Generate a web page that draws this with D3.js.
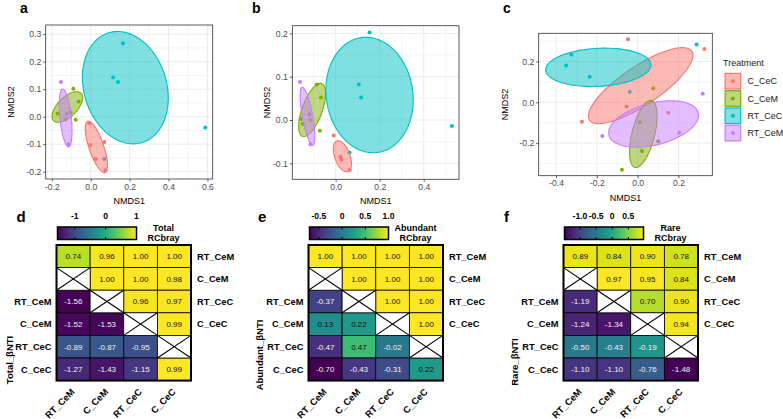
<!DOCTYPE html>
<html><head><meta charset="utf-8">
<script src="https://cdn.jsdelivr.net/npm/d3@7"></script>
<style>body{margin:0;background:#fff} svg{display:block;font-family:"Liberation Sans",Arial,Helvetica,sans-serif}</style>
</head><body><svg id="chart" width="783" height="419"></svg>
<script>
// ---------------- DATA ----------------
const treatments = ["C_CeC", "C_CeM", "RT_CeC", "RT_CeM"];
const treatmentColors = ["#F8766D", "#7CAE00", "#00BFC4", "#C77CFF"];

// NMDS panel a (Total): [group, NMDS1, NMDS2]
const nmdsTotalPoints = [
  ["C_CeC", -0.007, -0.024], ["C_CeC", -0.002, -0.103], ["C_CeC", 0.070, -0.092], ["C_CeC", 0.026, -0.154], ["C_CeC", 0.075, -0.195],
  ["C_CeM", -0.089, 0.102], ["C_CeM", -0.062, 0.055], ["C_CeM", -0.170, 0.012], ["C_CeM", -0.077, -0.011], ["C_CeM", -0.103, 0.015],
  ["RT_CeC", 0.166, 0.267], ["RT_CeC", 0.115, 0.143], ["RT_CeC", 0.140, 0.126], ["RT_CeC", 0.589, -0.039], ["RT_CeC", 0.070, -0.154],
  ["RT_CeM", -0.153, 0.126], ["RT_CeM", -0.130, -0.010], ["RT_CeM", -0.115, -0.100], ["RT_CeM", -0.124, 0.012]
];
// ellipses: [group, centre x, centre y, axis1 x, axis1 y, axis2 x, axis2 y] (data units)
const nmdsTotalEllipses = [
  ["C_CeC", 0.029, -0.110, -0.0446, 0.0930, 0.0357, 0.00855],
  ["C_CeM", -0.120, 0.0353, 0.0703, 0.0497, 0.0351, -0.0248],
  ["RT_CeC", 0.178, 0.1056, -0.0862, 0.1994, 0.2033, 0.0440],
  ["RT_CeM", -0.129, -0.0047, -0.0154, 0.1048, 0.0291, 0.0022]
];
const nmdsTotalXTicks = [-0.2, 0.0, 0.2, 0.4, 0.6];
const nmdsTotalYTicks = [-0.2, -0.1, 0.0, 0.1, 0.2, 0.3];

// NMDS panel b (Abundant)
const nmdsAbundantPoints = [
  ["C_CeC", -0.009, -0.036], ["C_CeC", 0.021, -0.085], ["C_CeC", 0.026, -0.092], ["C_CeC", 0.064, -0.115],
  ["C_CeM", -0.086, 0.082], ["C_CeM", -0.067, 0.052], ["C_CeM", -0.159, 0.002], ["C_CeM", -0.150, -0.009], ["C_CeM", -0.072, -0.025],
  ["RT_CeC", 0.154, 0.202], ["RT_CeC", 0.105, 0.082], ["RT_CeC", 0.116, 0.052], ["RT_CeC", 0.528, -0.014], ["RT_CeC", 0.063, -0.075],
  ["RT_CeM", -0.162, 0.088], ["RT_CeM", -0.119, 0.013], ["RT_CeM", -0.115, 0.000], ["RT_CeM", -0.115, -0.056]
];
const nmdsAbundantEllipses = [
  ["C_CeC", 0.0305, -0.0839, -0.0252, 0.0355, 0.0327, 0.00589],
  ["C_CeM", -0.107, 0.0231, 0.0432, 0.0609, 0.0431, -0.00778],
  ["RT_CeC", 0.154, 0.0577, -0.0370, 0.1326, 0.1950, 0.01386],
  ["RT_CeM", -0.128, 0.0085, -0.0244, 0.0670, 0.0231, 0.00216]
];
const nmdsAbundantXTicks = [0.0, 0.2, 0.4];
const nmdsAbundantYTicks = [-0.1, 0.0, 0.1, 0.2];

// NMDS panel c (Rare)
const nmdsRarePoints = [
  ["C_CeC", -0.047, 0.309], ["C_CeC", 0.327, 0.261], ["C_CeC", -0.273, -0.095], ["C_CeC", -0.054, -0.021], ["C_CeC", 0.150, -0.051],
  ["C_CeM", 0.077, 0.069], ["C_CeM", 0.021, -0.239], ["C_CeM", -0.077, -0.330], ["C_CeM", 0.101, -0.191], ["C_CeM", 0.010, -0.098],
  ["RT_CeC", 0.289, 0.284], ["RT_CeC", -0.325, 0.235], ["RT_CeC", -0.350, 0.180], ["RT_CeC", -0.235, 0.126], ["RT_CeC", -0.039, 0.052],
  ["RT_CeM", 0.319, 0.042], ["RT_CeM", 0.204, -0.149], ["RT_CeM", -0.173, -0.165]
];
const nmdsRareEllipses = [
  ["C_CeC", 0.0147, 0.0817, 0.2507, 0.1690, 0.0529, -0.0786],
  ["C_CeM", 0.0278, -0.1552, 0.0408, 0.1641, 0.0539, -0.0134],
  ["RT_CeC", -0.193, 0.1716, 0.2578, 0.01356, 0.0049, -0.0930],
  ["RT_CeM", 0.0784, -0.1062, 0.2188, 0.0546, 0.0248, -0.0998]
];
const nmdsRareXTicks = [-0.4, -0.2, 0.0, 0.2];
const nmdsRareYTicks = [-0.2, 0.0, 0.2];

// Heatmaps
const hmGroups = ["RT_CeM", "C_CeM", "RT_CeC", "C_CeC"];
// RCbray upper rows (row i holds columns i..3)
const totalRCbray = [[0.74, 0.96, 1.00, 1.00], [1.00, 1.00, 0.98], [0.96, 0.97], [0.99]];
// betaNTI lower rows (row i holds columns 0..i)
const totalBNTI = [[-1.56], [-1.52, -1.53], [-0.89, -0.87, -0.95], [-1.27, -1.43, -1.15, 0.99]];
const totalLegendTicks = [-1, 0, 1];

const abundantRCbray = [[1.00, 1.00, 1.00, 1.00], [1.00, 1.00, 1.00], [1.00, 1.00], [1.00]];
const abundantBNTI = [[-0.37], [0.13, 0.22], [-0.47, 0.47, -0.02], [-0.70, -0.43, -0.31, 0.22]];
const abundantLegendTicks = [-0.5, 0, 0.5, 1.0];

const rareRCbray = [[0.89, 0.84, 0.90, 0.78], [0.97, 0.95, 0.84], [0.70, 0.90], [0.94]];
const rareBNTI = [[-1.19], [-1.24, -1.34], [-0.50, -0.43, -0.19], [-1.10, -1.10, -0.76, -1.48]];
const rareLegendTicks = [-1.0, -0.5, 0, 0.5];

// ---------------- DRAWING ----------------
const svg = d3.select("#chart");
const color = d3.scaleOrdinal().domain(treatments).range(treatmentColors);
let clipId = 0;

function minorTicks(ticks, dom) {
  const step = ticks[1] - ticks[0];
  const out = [];
  for (let k = -20; k <= 20; k++) {
    const v = ticks[0] + step / 2 + k * step;
    if (v >= dom[0] && v <= dom[1]) out.push(v);
  }
  return out;
}

function scatter(o) {
  const g = svg.append("g");
  const x = d3.scaleLinear().domain(o.xDomain).range([o.left, o.right]);
  const y = d3.scaleLinear().domain(o.yDomain).range([o.bottom, o.top]);
  const id = "clip" + (clipId++);
  g.append("clipPath").attr("id", id).append("rect")
    .attr("x", o.left).attr("y", o.top).attr("width", o.right - o.left).attr("height", o.bottom - o.top);
  const grid = g.append("g");
  grid.selectAll(".mx").data(minorTicks(o.xTicks, o.xDomain)).join("line")
    .attr("x1", d => x(d)).attr("x2", d => x(d)).attr("y1", o.top).attr("y2", o.bottom)
    .attr("stroke", "#EBEBEB").attr("stroke-width", 0.5);
  grid.selectAll(".my").data(minorTicks(o.yTicks, o.yDomain)).join("line")
    .attr("y1", d => y(d)).attr("y2", d => y(d)).attr("x1", o.left).attr("x2", o.right)
    .attr("stroke", "#EBEBEB").attr("stroke-width", 0.5);
  grid.append("g").selectAll("line").data(o.xTicks).join("line")
    .attr("x1", d => x(d)).attr("x2", d => x(d)).attr("y1", o.top).attr("y2", o.bottom)
    .attr("stroke", "#EBEBEB").attr("stroke-width", 1);
  grid.append("g").selectAll("line").data(o.yTicks).join("line")
    .attr("y1", d => y(d)).attr("y2", d => y(d)).attr("x1", o.left).attr("x2", o.right)
    .attr("stroke", "#EBEBEB").attr("stroke-width", 1);

  const plot = g.append("g").attr("clip-path", `url(#${id})`);
  plot.selectAll("circle").data(o.points).join("circle")
    .attr("cx", d => x(d[1])).attr("cy", d => y(d[2])).attr("r", 2)
    .attr("fill", d => color(d[0]));
  const line = d3.line().curve(d3.curveLinearClosed);
  plot.selectAll("path.el").data(o.ellipses).join("path").attr("class", "el")
    .attr("d", e => {
      const pts = d3.range(0, 120).map(k => {
        const t = k / 120 * 2 * Math.PI;
        return [x(e[1] + e[3] * Math.cos(t) + e[5] * Math.sin(t)),
                y(e[2] + e[4] * Math.cos(t) + e[6] * Math.sin(t))];
      });
      return line(pts);
    })
    .attr("fill", e => color(e[0])).attr("fill-opacity", 0.5)
    .attr("stroke", e => color(e[0])).attr("stroke-width", 1.1);

  g.append("rect").attr("x", o.left).attr("y", o.top)
    .attr("width", o.right - o.left).attr("height", o.bottom - o.top)
    .attr("fill", "none").attr("stroke", "#333333").attr("stroke-width", 0.8);

  const fmt = d => d.toFixed(1);
  const ax = g.append("g").attr("transform", `translate(0,${o.bottom})`)
    .call(d3.axisBottom(x).tickValues(o.xTicks).tickFormat(fmt).tickSize(2.5).tickPadding(2));
  const ay = g.append("g").attr("transform", `translate(${o.left},0)`)
    .call(d3.axisLeft(y).tickValues(o.yTicks).tickFormat(fmt).tickSize(2.5).tickPadding(2));
  [ax, ay].forEach(a => {
    a.select(".domain").remove();
    a.selectAll(".tick line").attr("stroke", "#333333").attr("stroke-width", 0.8);
    a.selectAll(".tick text").attr("fill", "#4D4D4D").style("font-size", "8.6px")
      .style("font-family", '"Liberation Sans",Arial,sans-serif');
  });
  g.append("text").attr("x", (o.left + o.right) / 2).attr("y", o.bottom + 25)
    .attr("text-anchor", "middle").style("font-size", "9px").text("NMDS1");
  g.append("text").attr("transform", `translate(${o.yTitleX},${(o.top + o.bottom) / 2}) rotate(-90)`)
    .attr("text-anchor", "middle").style("font-size", "9px").text("NMDS2");
  svg.append("text").attr("x", o.tagX).attr("y", 13).style("font-size", "14px")
    .style("font-weight", "bold").text(o.tag);
}

scatter({ tag: "a", tagX: 20, left: 45.7, right: 212.7, top: 25, bottom: 179,
  xDomain: [-0.2314, 0.6272], yDomain: [-0.2265, 0.3335], yTitleX: 13.5,
  xTicks: nmdsTotalXTicks, yTicks: nmdsTotalYTicks, points: nmdsTotalPoints, ellipses: nmdsTotalEllipses });
scatter({ tag: "b", tagX: 252, left: 292.3, right: 459, top: 25.7, bottom: 179.3,
  xDomain: [-0.197, 0.5604], yDomain: [-0.137, 0.2178], yTitleX: 270,
  xTicks: nmdsAbundantXTicks, yTicks: nmdsAbundantYTicks, points: nmdsAbundantPoints, ellipses: nmdsAbundantEllipses });
scatter({ tag: "c", tagX: 503, left: 538.7, right: 712.3, top: 33.3, bottom: 175.7,
  xDomain: [-0.485, 0.366], yDomain: [-0.3597, 0.3384], yTitleX: 508,
  xTicks: nmdsRareXTicks, yTicks: nmdsRareYTicks, points: nmdsRarePoints, ellipses: nmdsRareEllipses });

// legend for c
(function () {
  const lg = svg.append("g");
  lg.append("text").attr("x", 723).attr("y", 66).style("font-size", "9px").attr("fill", "#1a1a1a").text("Treatment");
  const items = lg.selectAll("g.it").data(treatments).join("g").attr("class", "it")
    .attr("transform", (d, i) => `translate(724.5,${72.8 + i * 17.3})`);
  items.append("rect").attr("x", 0.6).attr("y", 0.6).attr("width", 15.6).attr("height", 15.6)
    .attr("fill", d => color(d)).attr("fill-opacity", 0.5).attr("stroke", d => color(d)).attr("stroke-width", 1.2);
  items.append("circle").attr("cx", 8.4).attr("cy", 8.4).attr("r", 2).attr("fill", d => color(d));
  items.append("text").attr("x", 23).attr("y", 11.6).style("font-size", "9px").attr("fill", "#1a1a1a").text(d => d);
})();

function heatmap(o) {
  const g = svg.append("g");
  const all = o.rc.flat().concat(o.bnti.flat());
  const ext = d3.extent(all);
  const fill = d3.scaleSequential(d3.interpolateViridis).domain(ext);
  const W = 134.5, H = 135.6, cw = W / 4, ch = H / 6;
  const xs = d3.scaleBand().domain(hmGroups).range([o.left, o.left + W]);
  const ys = d3.scaleBand().domain(d3.range(6)).range([o.top, o.top + H]);
  const cells = [];
  o.rc.forEach((row, i) => row.forEach((v, k) => cells.push({ r: i, c: i + k, v })));
  o.bnti.forEach((row, i) => row.forEach((v, k) => cells.push({ r: i + 2, c: k, v })));
  const cg = g.selectAll("g.cell").data(cells).join("g").attr("class", "cell");
  cg.append("rect").attr("x", d => xs(hmGroups[d.c])).attr("y", d => ys(d.r))
    .attr("width", xs.bandwidth()).attr("height", ys.bandwidth())
    .attr("fill", d => fill(d.v)).attr("stroke", "#000").attr("stroke-width", 0.8);
  cg.append("text").attr("x", d => xs(hmGroups[d.c]) + cw / 2).attr("y", d => ys(d.r) + ch / 2 + 2.9)
    .attr("text-anchor", "middle").style("font-size", "8px")
    .attr("fill", d => d.v < 0 ? "#f2f2f2" : "#111").text(d => d.v.toFixed(2));
  // crossed cells
  const crosses = d3.range(1, 5).map(r => ({ r, c: r - 1 }));
  const xg = g.selectAll("g.cross").data(crosses).join("g").attr("class", "cross");
  xg.append("rect").attr("x", d => xs(hmGroups[d.c])).attr("y", d => ys(d.r))
    .attr("width", xs.bandwidth()).attr("height", ys.bandwidth())
    .attr("fill", "#fff").attr("stroke", "#000").attr("stroke-width", 0.8);
  xg.append("path").attr("d", d => {
    const x0 = xs(hmGroups[d.c]), y0 = ys(d.r), x1 = x0 + cw, y1 = y0 + ch;
    return `M${x0},${y0}L${x1},${y1}M${x1},${y0}L${x0},${y1}`;
  }).attr("stroke", "#000").attr("stroke-width", 1.1);
  g.append("rect").attr("x", o.left).attr("y", o.top).attr("width", W).attr("height", H)
    .attr("fill", "none").attr("stroke", "#000").attr("stroke-width", 2);

  // right labels (RCbray rows 0..3)
  g.selectAll("text.rl").data(hmGroups).join("text").attr("class", "rl")
    .attr("x", o.left + W + 6).attr("y", (d, i) => ys(i) + ch / 2 + 3.2)
    .style("font-size", "9.3px").style("font-weight", "bold").text(d => d);
  // left labels (betaNTI rows 2..5)
  g.selectAll("text.ll").data(hmGroups).join("text").attr("class", "ll")
    .attr("x", o.left - 5).attr("y", (d, i) => ys(i + 2) + ch / 2 + 3.2).attr("text-anchor", "end")
    .style("font-size", "9.3px").style("font-weight", "bold").text(d => d);
  // bottom labels
  g.selectAll("text.bl").data(hmGroups).join("text").attr("class", "bl")
    .attr("transform", d => `translate(${xs(d) + cw / 2 + 2},${o.top + H + 12}) rotate(-45)`)
    .attr("text-anchor", "end").style("font-size", "9.3px").style("font-weight", "bold").text(d => d);
  // y title
  g.append("text").attr("transform", `translate(${o.titleX},${o.titleY}) rotate(-90)`)
    .attr("text-anchor", "middle").style("font-size", "9.5px").style("font-weight", "bold").text(o.yTitle);
  // colour bar
  const bx0 = o.left + 1, bx1 = o.left + 80, by0 = 227, by1 = 239.5;
  const lx = d3.scaleLinear().domain(ext).range([bx0, bx1]);
  const gid = "grad" + o.tag;
  const grad = svg.append("defs").append("linearGradient").attr("id", gid);
  d3.range(0, 11).forEach(k => grad.append("stop").attr("offset", k / 10)
    .attr("stop-color", d3.interpolateViridis(k / 10)));
  g.append("rect").attr("x", bx0).attr("y", by0).attr("width", bx1 - bx0).attr("height", by1 - by0)
    .attr("fill", `url(#${gid})`).attr("stroke", "#000").attr("stroke-width", 1.5);
  const tk = g.selectAll("g.lt").data(o.ticks).join("g").attr("class", "lt");
  tk.append("line").attr("x1", d => lx(d)).attr("x2", d => lx(d)).attr("y1", by0).attr("y2", by0 + 2.5)
    .attr("stroke", "#000").attr("stroke-width", 1);
  tk.append("line").attr("x1", d => lx(d)).attr("x2", d => lx(d)).attr("y1", by1 - 2.5).attr("y2", by1)
    .attr("stroke", "#000").attr("stroke-width", 1);
  tk.append("text").attr("x", d => lx(d)).attr("y", 218.5).attr("text-anchor", "middle")
    .style("font-size", "8.6px").style("font-weight", "bold").text(d => Number.isInteger(d) && o.intTicks ? d : (d === 0 ? "0" : d.toFixed(1)));
  const tt = g.append("text").attr("text-anchor", "middle").style("font-size", "9px").style("font-weight", "bold");
  tt.append("tspan").attr("x", bx1 + 27).attr("y", 230.5).text(o.legTitle);
  tt.append("tspan").attr("x", bx1 + 27).attr("y", 241).text("RCbray");
  svg.append("text").attr("x", o.tagX).attr("y", 221.5).style("font-size", "15px")
    .style("font-weight", "bold").text(o.tag);
}

heatmap({ tag: "d", tagX: 16.5, left: 56.5, top: 245, rc: totalRCbray, bnti: totalBNTI, ticks: totalLegendTicks,
  intTicks: true, legTitle: "Total", yTitle: "Total_βNTI", titleX: 13, titleY: 360 });
heatmap({ tag: "e", tagX: 258, left: 308.5, top: 245, rc: abundantRCbray, bnti: abundantBNTI, ticks: abundantLegendTicks,
  intTicks: false, legTitle: "Abundant", yTitle: "Abundant_βNTI", titleX: 263, titleY: 355 });
heatmap({ tag: "f", tagX: 504, left: 563.5, top: 245, rc: rareRCbray, bnti: rareBNTI, ticks: rareLegendTicks,
  intTicks: false, legTitle: "Rare", yTitle: "Rare_βNTI", titleX: 518, titleY: 362 });
</script></body></html>
